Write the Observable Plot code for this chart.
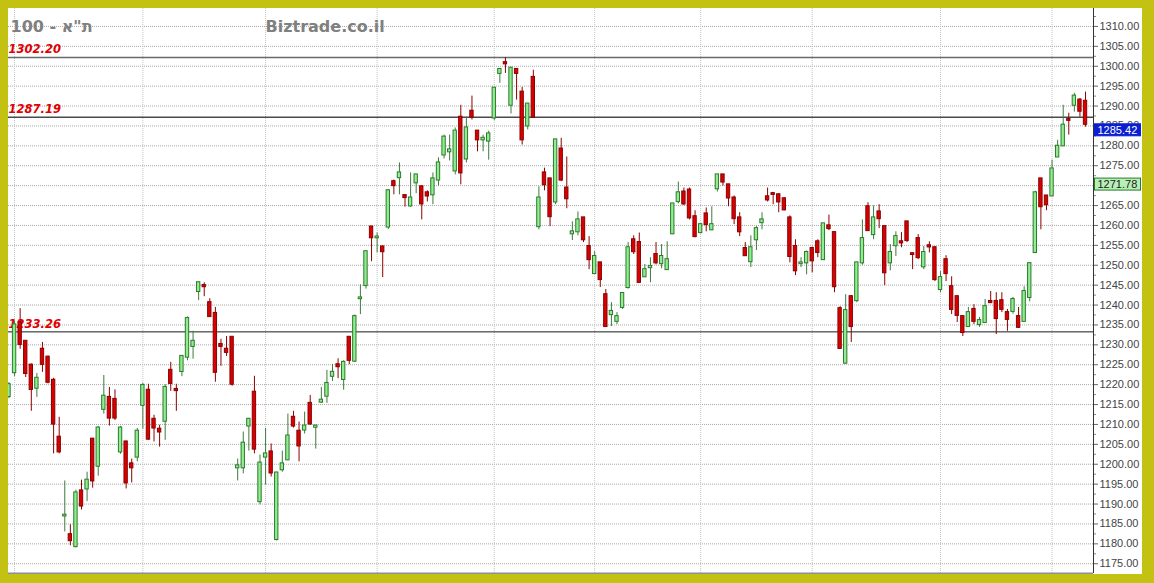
<!DOCTYPE html>
<html><head><meta charset="utf-8">
<script src="https://cdn.jsdelivr.net/npm/d3@7"></script>
<script src="https://cdn.jsdelivr.net/npm/@observablehq/plot@0.6"></script>
<style>
html,body{margin:0;padding:0;background:#c3c112;}
#frame{position:relative;width:1154px;height:583px;background:#c3c112;overflow:hidden;}
#chart{position:absolute;left:8px;top:8px;width:1134px;height:566px;background:#fff;overflow:hidden;}
</style></head><body><div id="frame"><div id="chart"></div></div>
<script>
const title = "100 - ת\"א";
const site = "Biztrade.co.il";

const opens = [1217,1223,1235.6,1230.9,1224.9,1219.1,1228.9,1226.9,1221.1,1206.8,1187,1182.3,1179.3,1193.3,1193.8,1206.3,1199.5,1213.8,1216.8,1216.3,1203.1,1205.6,1200.1,1201.8,
1214.8,1218.6,1211.3,1208.8,1210.8,1223.6,1218.8,1223.3,1226.9,1229.6,1243.4,1244.9,1240.6,1237.9,1230.1,1228.9,1231.9,1199.1,1199.1,1209.6,1218.1,1190.6,1201.8,
1203.1,1181.1,1198.6,1201.1,1211.8,1208.3,1208.6,1215.3,1209.3,1215.6,1217.1,1222.1,1225,1221.3,1231.9,1225.9,1241.6,1244.9,1259.6,1256.9,1254.6,1259.6,
1271,1272,1267.5,1264.9,1270.7,1269.7,1268.2,1267.7,1271.4,1277.7,1278.5,1273.7,1287.2,1276.7,1288.7,1283.7,1281.5,1281.2,1287,1298.2,1300.9,1290.2,1299.2,1293.5,1285,1297.2,1259.7,1273.2,1271.7,
1265.9,1279.2,1269.4,1257.9,1258.4,1261.9,1254.7,1247.9,1250.6,1242.6,1237.6,1235.9,1239.4,1244.4,1256.4,1255.7,1247.1,1249.4,1252.7,1250.4,1248.9,
1257.9,1266,1268.4,1268.9,1262.2,1258.2,1262.9,1258.9,1269.2,1272.7,1270.2,1266.9,1261.9,1254.2,1250.9,1256.4,1260.7,1267.2,1268,1267.7,1266.7,1261.9,1254.7,1250.4,1250.6,
1254.2,1255.9,1251.4,1259.9,1258.2,1239.1,1225.4,1242.1,1241.1,1250.6,1264.7,1257.7,1263.4,1259.7,1250.6,1254.9,1255.9,1260.9,1252.9,1256.7,1249.6,1254.9,1254.4,1243.9,1251.4,
1244.6,1242.1,1237.1,1234.6,1238.9,1235.1,1235.6,1240.9,1240.9,1241.1,1238.1,1238.4,1237.1,1235.9,1241.9,1253.2,1271.7,1267.4,1267.4,1277.2,1280,1286.6,1290.2,1291.5,1291.2];
const highs = [1220.5,1236,1239.1,1231,1225.2,1222.8,1230.6,1227.2,1221.6,1211.8,1195.8,1184.8,1193.5,1196,1198,1206.5,1209.5,1222.3,1219.3,1218.7,1209.5,1205.8,1201.3,1209,
1220.3,1220.1,1212.3,1209.8,1220,1225.6,1220.1,1227.3,1237,1233.4,1245.8,1245.6,1241.6,1239.4,1231.4,1232.1,1232,1201.3,1208.1,1211.5,1222.1,1202.3,1209,
1205.1,1198,1203.3,1212.6,1213.3,1210.6,1213.1,1217.3,1209.8,1219.3,1223.6,1225.1,1226.5,1226,1232,1237.5,1245.1,1253.6,1259.8,1258.1,1254.8,1269,
1271.4,1275.7,1267.7,1273.2,1272.8,1270,1268.7,1273.2,1277,1282.7,1282.7,1284.5,1290.2,1287.2,1292.5,1283.8,1282.7,1283.7,1294.6,1299.3,1302.2,1299.7,1299.3,1294.7,1290.6,1299,1269.7,1274.4,1271.8,
1281.6,1281.9,1277.2,1260.9,1263.4,1262,1257.2,1253.4,1250.7,1243.9,1240.6,1238.1,1243,1255.7,1257.4,1258.1,1250.2,1251.9,1255.7,1255.2,1255.9,
1265.5,1270.9,1269.4,1269.4,1263.7,1260.2,1264.4,1264.7,1272.8,1272.8,1270.3,1267.4,1263.2,1255.7,1257.4,1259.7,1263.2,1269.4,1268.3,1268,1267,1262.4,1256.4,1251.9,1253.6,
1254.5,1256.4,1260.5,1262.6,1258.3,1239.6,1242.6,1242.4,1250.7,1261.4,1265.7,1264.9,1265.2,1259.8,1255.2,1258.4,1258.2,1261,1253,1257.7,1254.7,1255.9,1254.6,1248.4,1252.4,
1247.1,1242.2,1237.2,1239.4,1240.1,1236.9,1241.4,1243.4,1243.1,1243.1,1238.9,1241.9,1239.4,1244.6,1250.5,1268.6,1271.8,1267.5,1276.4,1281.4,1290.2,1288.2,1293.2,1291.9,1293.5];
const lows = [1216.5,1222,1228.9,1221.8,1213.3,1216.8,1223.1,1220.2,1202.6,1202.6,1183,1179.5,1179,1188.5,1190.6,1194,1197,1212.6,1209.6,1211,1202.5,1193.8,1195.3,1200.6,
1208.8,1206,1205.6,1204.3,1206,1218.3,1213.3,1222,1226,1226.4,1241.1,1242.1,1237,1220.6,1224.6,1227.1,1219.6,1195.8,1197.6,1203.3,1202.6,1189.8,1194.8,
1196.8,1180.7,1198,1201,1209.1,1200.6,1207.6,1209.8,1203.8,1215.3,1215.3,1220.8,1221.5,1218.6,1225,1225.6,1237.6,1244,1250.9,1253.1,1246.9,1259,
1267.7,1267.7,1264.6,1264.6,1268,1261.4,1265.9,1265.2,1269.9,1276.7,1276.2,1272.7,1270.2,1275.7,1286.5,1278.5,1278.5,1276.4,1286.4,1295.7,1298.2,1288,1291.5,1280.2,1284,1287,1258.9,1268.7,1259.7,
1265.2,1271,1264.2,1256.2,1257.4,1255.7,1248.9,1247.9,1244.4,1234.5,1234.6,1235.1,1238.9,1244,1252.7,1245.6,1246.9,1245.6,1250.1,1249.1,1248.9,
1257.7,1265.4,1265,1261.4,1256.9,1257.9,1258.4,1258.7,1268.4,1269.9,1264.7,1260.2,1257.2,1252.2,1249.4,1253.7,1258.9,1265.9,1265.2,1263.2,1263.7,1250.6,1247.4,1249.4,1247.6,
1248.1,1251.9,1251.2,1258.7,1243.1,1228.9,1225.1,1230.6,1240.6,1250,1258.6,1256.4,1259.2,1244.9,1248.6,1252.2,1254.4,1255.7,1248.9,1251.4,1248.9,1253.1,1245.9,1243.1,1245.9,
1237.6,1235.6,1232.1,1234.5,1235.1,1234.4,1235.6,1240.4,1232.6,1238.1,1233.4,1237.7,1234.1,1235.8,1240.8,1253,1258.9,1263.7,1267.4,1277.2,1280,1282.7,1288.5,1287.2,1284.7];
const closes = [1220,1235,1230.1,1222.8,1218.8,1221.6,1225.1,1220.6,1210.1,1203.1,1187.2,1180.8,1192.8,1189.5,1196,1195.8,1209.1,1217.1,1211.6,1211.6,1209.1,1195.3,1199.1,1208.3,
1219.8,1206.3,1209.1,1208.1,1219.3,1220.3,1218.5,1227.1,1236.6,1230.9,1245.6,1244.6,1237.1,1223.1,1229.6,1228.1,1220.1,1199.6,1205.3,1211.3,1203.8,1200.3,1202.6,
1197.8,1197.8,1200.1,1207.1,1209.6,1204.6,1209.6,1210.1,1209.6,1216.1,1220.3,1223.1,1224.5,1225.6,1226.1,1237.1,1241.8,1253.4,1256.9,1257.1,1253.4,1268.7,
1270,1273.2,1267,1266.9,1272.7,1265.4,1267.4,1271.7,1275.7,1282.2,1279,1283.7,1273.2,1284.5,1287.2,1281.5,1281.9,1283,1294.5,1299.2,1300.6,1299.5,1298.2,1281.5,1290.5,1287.2,1266.9,1270.2,1262.2,
1281.5,1271.4,1266.7,1258.4,1261.4,1256.4,1251.4,1252.2,1246.4,1234.6,1238.4,1237.1,1242.9,1254.4,1253.4,1245.7,1248.9,1249.7,1250.6,1252.2,1251.4,
1265.4,1268.2,1265.4,1261.9,1257.2,1260.2,1260.2,1260.2,1272.7,1270.9,1266.9,1261.7,1258.4,1252.4,1254.4,1259.2,1261.4,1266.4,1267.8,1265.9,1263.9,1252.2,1248.6,1250.6,1253.2,
1251.1,1253.2,1260.4,1259.2,1244.6,1229.1,1238.6,1234.6,1250.6,1256.7,1258.7,1261.9,1261.7,1248.1,1253.2,1257.2,1255.6,1256.2,1252.7,1251.9,1253.2,1254.6,1246.4,1246.9,1247.9,
1238.9,1237.4,1233.1,1238.1,1235.9,1236.1,1239.6,1240.6,1236.6,1238.9,1236.4,1241.4,1234.4,1243.4,1250.4,1268.2,1264.7,1265.2,1274.2,1279.9,1285.2,1286.4,1292.5,1288.7,1285.42];

const refLevels = [1302.20, 1287.19, 1233.26];
const refStroke = ["#6a6a6a", "#4a4a4a", "#1a1a1a"];
const refWidth = [1.6, 1.3, 1];
const lastClose = 1285.42;
const markerValue = 1271.78;
const monthStarts = [1, 24, 46, 66, 87, 105, 124, 144, 167, 187];
const yTicks = d3.range(1175, 1310.1, 5);
const yMinor = d3.range(1177.5, 1313, 5);

const xDomain = [-0.0896, 194.43];
const yDomain = [1172.55, 1314.51];

const candles = opens.map((o, i) => ({i, o, h: highs[i], l: lows[i], c: closes[i], up: closes[i] >= o}));

const plot = Plot.plot({
  width: 1134, height: 566,
  marginLeft: 0, marginRight: 49, marginTop: 0, marginBottom: 1,
  x: {domain: xDomain, axis: null},
  y: {domain: yDomain, axis: null},
  style: {background: "white", fontFamily: "'Liberation Sans', Arial, sans-serif", fontSize: "11px", color: "#444", overflow: "hidden"},
  marks: [
    Plot.ruleY(yTicks, {stroke: "#a8a8a8", strokeDasharray: "1,1"}),
    Plot.ruleX(monthStarts, {stroke: "#c4c4c4", strokeDasharray: "1,1"}),
    Plot.ruleY(refLevels, {stroke: (d, i) => refStroke[i], strokeWidth: (d, i) => refWidth[i]}),
    Plot.text(refLevels, {y: d => d, frameAnchor: "left", textAnchor: "start", dy: -8, text: d => d.toFixed(2),
      fill: "#e00000", fontWeight: "bold", fontStyle: "italic", fontSize: 11.5, fontFamily: "'DejaVu Sans', Verdana, sans-serif"}),
    Plot.text([title], {frameAnchor: "top-left", dx: 2, dy: 12, fill: "#808080", fontWeight: "bold", fontSize: 16, fontFamily: "'DejaVu Sans', Verdana, sans-serif"}),
    Plot.text([site], {frameAnchor: "top-left", dx: 257, dy: 12, fill: "#808080", fontWeight: "bold", fontSize: 16, fontFamily: "'DejaVu Sans', Verdana, sans-serif"}),
    Plot.ruleX(candles, {x: "i", y1: "l", y2: "h", stroke: d => d.up ? "#3f7a3f" : "#8b0000"}),
    Plot.rect(candles, {x1: d => d.i - 0.3, x2: d => d.i + 0.3,
      y1: d => Math.min(d.o, d.c), y2: d => Math.max(d.o, d.c),
      fill: d => d.up ? "#90ee90" : "#d80000", stroke: d => d.up ? "#2c7a2c" : "#8b0000",
      insetTop: -0.5, insetBottom: -0.5}),
    Plot.ruleX([xDomain[1]], {stroke: "#333"}),
    Plot.ruleY([yDomain[0]], {stroke: "#8a8fa0", strokeWidth: 2}),
    Plot.axisY(yTicks, {anchor: "right", tickSize: 4, tickPadding: 2, tickFormat: d => d.toFixed(2), fill: "#444", stroke: "#666"}),
    Plot.axisY(yMinor, {anchor: "right", tickSize: 2, tickFormat: () => "", stroke: "#888"}),
    Plot.text([lastClose], {y: d => d, frameAnchor: "right", textAnchor: "start", dx: 4, dy: 6, text: d => d.toFixed(2), fill: "white"}),
    Plot.text([markerValue], {y: d => d, frameAnchor: "right", textAnchor: "start", dx: 4, dy: 6, text: d => d.toFixed(2), fill: "#222"})
  ]
});

document.getElementById("chart").append(plot);

function boxify(value, fill, stroke) {
  const label = value.toFixed(2);
  d3.select(plot).selectAll("text").filter(function () { return this.textContent === label; }).each(function () {
    const b = this.getBBox();
    const r = document.createElementNS("http://www.w3.org/2000/svg", "rect");
    r.setAttribute("x", b.x - 3);
    r.setAttribute("y", b.y);
    r.setAttribute("width", 46);
    r.setAttribute("height", b.height);
    r.setAttribute("fill", fill);
    r.setAttribute("stroke", stroke);
    const t = this.getAttribute("transform");
    if (t) r.setAttribute("transform", t);
    this.parentNode.insertBefore(r, this);
  });
}
boxify(lastClose, "#0a1ed2", "#0a1ed2");
boxify(markerValue, "#b6f0b6", "#2a7a2a");
</script>
</body></html>
